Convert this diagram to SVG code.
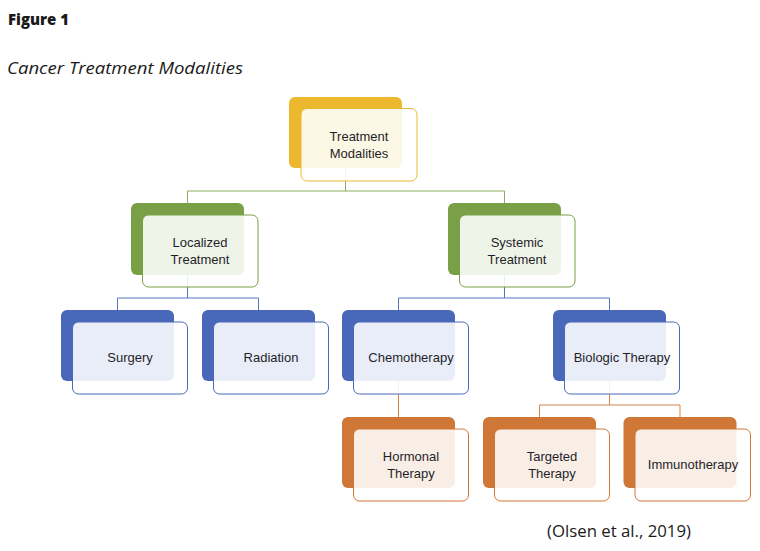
<svg xmlns="http://www.w3.org/2000/svg" width="760" height="551" viewBox="0 0 760 551">
<style>
.cap{font-family:"Open Sans","Liberation Sans",sans-serif;fill:#1a1a1a}
.t{font-family:"Liberation Sans","Open Sans",sans-serif;font-size:13px;fill:#1f1f2a;text-anchor:middle}
.front{fill:#ffffff;fill-opacity:0.88;stroke-width:1}
.gold .back{fill:#ECB92E}.gold .front{stroke:#ECB92E}
.green .back{fill:#79A046}.green .front{stroke:#79A046}
.blue .back{fill:#4A68B9}.blue .front{stroke:#4A68B9}
.orange .back{fill:#CF7737}.orange .front{stroke:#CF7737}
.c{fill:none;stroke-width:1}
</style>
<rect width="760" height="551" fill="#ffffff"/>
<text class="cap" x="8" y="25" font-size="15.5" font-weight="800" textLength="61" lengthAdjust="spacingAndGlyphs">Figure 1</text>
<text class="cap" x="7" y="74" font-size="15.5" font-style="italic" textLength="236" lengthAdjust="spacingAndGlyphs">Cancer Treatment Modalities</text>
<text class="cap" x="547" y="537" font-size="15.5" textLength="144" lengthAdjust="spacingAndGlyphs">(Olsen et al., 2019)</text>
<g id="connectors">
<path class="c" stroke="#8CAE60" d="M345.5 168V191M187.5 191H504.5M187.5 191V203M504.5 191V203"/>
<path class="c" stroke="#5A74C0" d="M187.5 275V298M117.5 298H258.5M117.5 298V310M258.5 298V310"/>
<path class="c" stroke="#5A74C0" d="M504.5 275V298M398.5 298H609.5M398.5 298V310M609.5 298V310"/>
<path class="c" stroke="#D3844A" d="M398.5 381V417"/>
<path class="c" stroke="#D3844A" d="M609.5 381V405M539.5 405H680M539.5 405V417M680 405V417"/>
</g>
<g id="n-treatment" class="gold">
<rect class="back" x="289" y="97" width="113" height="71" rx="6"/>
<rect class="front" x="301" y="108.5" width="116" height="72.5" rx="6"/>
<text class="t" x="359" y="141">Treatment</text>
<text class="t" x="359" y="158">Modalities</text>
</g>
<g id="n-localized" class="green">
<rect class="back" x="131" y="203" width="113" height="72" rx="6"/>
<rect class="front" x="142.5" y="215" width="115.5" height="72" rx="6"/>
<text class="t" x="200" y="247">Localized</text>
<text class="t" x="200" y="264">Treatment</text>
</g>
<g id="n-systemic" class="green">
<rect class="back" x="448" y="203" width="113" height="72" rx="6"/>
<rect class="front" x="459.5" y="215" width="115.5" height="72" rx="6"/>
<text class="t" x="517" y="247">Systemic</text>
<text class="t" x="517" y="264">Treatment</text>
</g>
<g id="n-surgery" class="blue">
<rect class="back" x="61" y="310" width="113" height="71" rx="6"/>
<rect class="front" x="72.5" y="322" width="115" height="72" rx="6"/>
<text class="t" x="130" y="362">Surgery</text>
</g>
<g id="n-radiation" class="blue">
<rect class="back" x="202" y="310" width="113" height="71" rx="6"/>
<rect class="front" x="213.5" y="322" width="115" height="72" rx="6"/>
<text class="t" x="271" y="362">Radiation</text>
</g>
<g id="n-chemo" class="blue">
<rect class="back" x="342" y="310" width="113" height="71" rx="6"/>
<rect class="front" x="353.5" y="322" width="115" height="72" rx="6"/>
<text class="t" x="411" y="362">Chemotherapy</text>
</g>
<g id="n-biologic" class="blue">
<rect class="back" x="553" y="310" width="113" height="71" rx="6"/>
<rect class="front" x="564.5" y="322" width="115" height="72" rx="6"/>
<text class="t" x="622" y="362">Biologic Therapy</text>
</g>
<g id="n-hormonal" class="orange">
<rect class="back" x="342" y="417" width="113" height="71" rx="6"/>
<rect class="front" x="353.5" y="429" width="115" height="72" rx="6"/>
<text class="t" x="411" y="461">Hormonal</text>
<text class="t" x="411" y="478">Therapy</text>
</g>
<g id="n-targeted" class="orange">
<rect class="back" x="483" y="417" width="113" height="71" rx="6"/>
<rect class="front" x="494.5" y="429" width="115" height="72" rx="6"/>
<text class="t" x="552" y="461">Targeted</text>
<text class="t" x="552" y="478">Therapy</text>
</g>
<g id="n-immuno" class="orange">
<rect class="back" x="623.5" y="417" width="113" height="71" rx="6"/>
<rect class="front" x="635" y="429" width="115.5" height="72" rx="6"/>
<text class="t" x="693" y="469">Immunotherapy</text>
</g>
</svg>
